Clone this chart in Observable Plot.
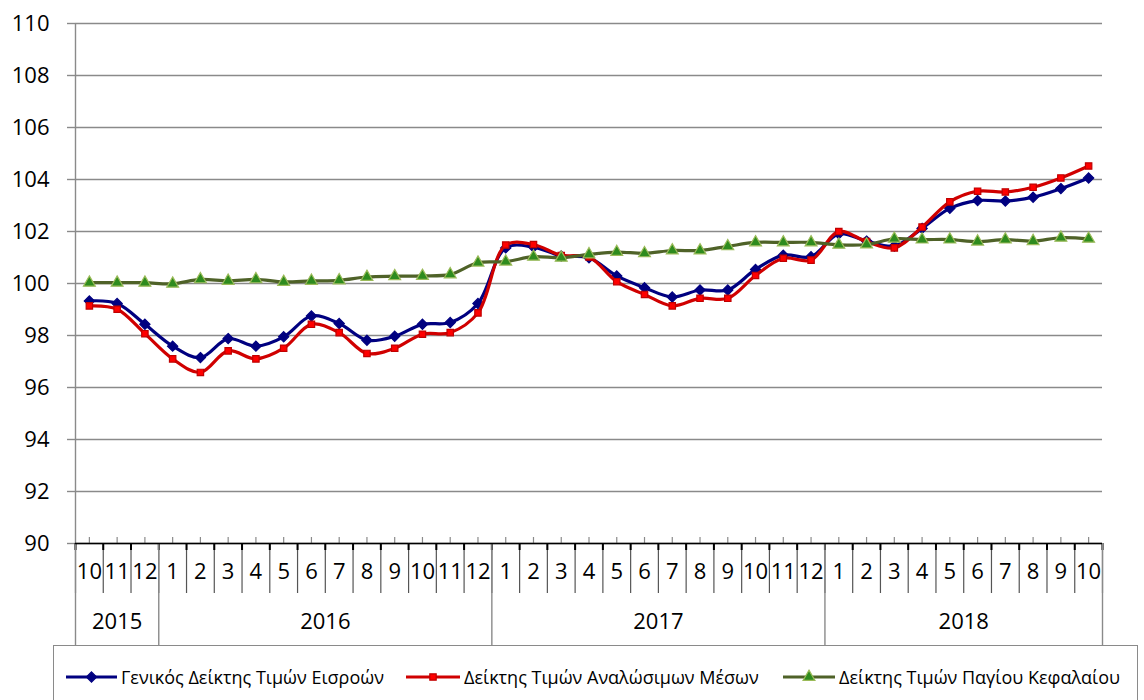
<!DOCTYPE html>
<html><head><meta charset="utf-8">
<script src="https://cdn.jsdelivr.net/npm/d3@7"></script>
<script src="https://cdn.jsdelivr.net/npm/@observablehq/plot@0.6"></script>
<style>
body{margin:0;background:#fff;font-family:"Open Sans",sans-serif;color:#000;}
#wrap{position:relative;width:1144px;height:700px;overflow:hidden;background:#fff;}
#chart{position:absolute;left:0;top:0;}
#legend{position:absolute;left:53px;top:645px;width:1085px;height:80px;border:1.5px solid #8a8a8a;box-sizing:border-box;background:#fff;}
.item{position:absolute;top:19px;height:24px;display:flex;align-items:center;white-space:nowrap;font-size:18px;}
.item svg{margin-right:4px;}
</style>
</head><body>
<div id="wrap"><div id="chart"></div><div id="legend"></div></div>
<script>
const months = [10,11,12,1,2,3,4,5,6,7,8,9,10,11,12,1,2,3,4,5,6,7,8,9,10,11,12,1,2,3,4,5,6,7,8,9,10];
const years  = [2015,2015,2015,2016,2016,2016,2016,2016,2016,2016,2016,2016,2016,2016,2016,2017,2017,2017,2017,2017,2017,2017,2017,2017,2017,2017,2017,2018,2018,2018,2018,2018,2018,2018,2018,2018,2018];
const seriesNames = ["Γενικός Δείκτης Τιμών Εισροών","Δείκτης Τιμών Αναλώσιμων Μέσων","Δείκτης Τιμών Παγίου Κεφαλαίου"];
const general = [99.33,99.23,98.43,97.59,97.15,97.88,97.59,97.95,98.75,98.46,97.82,97.97,98.43,98.50,99.23,101.37,101.40,101.06,100.99,100.29,99.84,99.48,99.75,99.75,100.54,101.09,101.03,101.91,101.63,101.44,102.12,102.89,103.19,103.17,103.32,103.65,104.06];
const consumables = [99.14,99.01,98.07,97.10,96.58,97.41,97.10,97.51,98.43,98.11,97.31,97.51,98.05,98.11,98.87,101.48,101.50,101.08,101.02,100.07,99.58,99.14,99.43,99.43,100.31,100.97,100.90,102.00,101.61,101.37,102.17,103.14,103.55,103.52,103.70,104.06,104.52];
const capital = [100.03,100.03,100.03,99.99,100.16,100.10,100.16,100.06,100.10,100.12,100.25,100.28,100.29,100.35,100.80,100.84,101.03,100.99,101.12,101.21,101.16,101.27,101.27,101.43,101.58,101.58,101.58,101.49,101.50,101.72,101.69,101.69,101.61,101.69,101.63,101.76,101.72];
const yTicks = [90,92,94,96,98,100,102,104,106,108,110];

const styles = [
  {line:"#000080", fill:"#000080", stroke:"#000080", symbol:"diamond2", r:4.6},
  {line:"#D00000", fill:"#FF0000", stroke:"#C00000", symbol:"square", r:3.6},
  {line:"#4F6228", fill:"#2E8B1E", stroke:"#9BBB59", symbol:"triangle", r:4.4}
];
const valuesBySeries = [general, consumables, capital];

const idx = months.map((_, i) => i);
const rows = valuesBySeries.map((vals, s) => vals.map((v, i) => ({i, v, s})));
const boundaries = d3.range(months.length + 1).map(i => i - 0.5);
const yearGroups = d3.groups(idx, i => years[i]).map(([y, is]) => ({year: y, first: d3.min(is), last: d3.max(is)}));
const yearBounds = [-0.5, ...yearGroups.map(g => g.last + 0.5)];
const yearCenters = yearGroups.map(g => ({year: g.year, x: (g.first + g.last) / 2}));

const marks = [
  Plot.ruleY(yTicks, {stroke: "#8a8a8a", strokeWidth: 1.4}),
  Plot.axisY({ticks: yTicks, tickSize: 8, tickPadding: 18, fontSize: 22, stroke: "#8a8a8a", strokeWidth: 1.4, fill: "#000", label: null}),
  Plot.ruleX(idx, {x: d => d, y1: 90, y2: 90, insetBottom: 6, stroke: "#8a8a8a", strokeWidth: 1.2}),
  Plot.ruleX(boundaries, {x: d => d, y1: 90, y2: 90, insetTop: 50, stroke: "#555", strokeWidth: 1.2}),
  Plot.ruleX(boundaries, {x: d => d, y1: 90, y2: 90, insetTop: 7, stroke: "#000", strokeWidth: 2}),
  Plot.ruleX(yearBounds, {x: d => d, y1: 90, y2: 90, insetTop: 102, stroke: "#8a8a8a", strokeWidth: 1.4}),
  Plot.ruleX([-0.5], {stroke: "#8a8a8a", strokeWidth: 1.4}),
  Plot.ruleY([90], {stroke: "#000", strokeWidth: 1.4}),
  Plot.text(idx, {x: d => d, text: i => String(months[i]), frameAnchor: "bottom", dy: 35, fontSize: 22, fill: "#000"}),
  Plot.text(yearCenters, {x: "x", text: d => String(d.year), frameAnchor: "bottom", dy: 85, fontSize: 22, fill: "#000"})
];
rows.forEach((data, s) => {
  const st = styles[s];
  marks.push(Plot.line(data, {x: "i", y: "v", stroke: st.line, strokeWidth: 3.2, curve: "catmull-rom"}));
  marks.push(Plot.dot(data, {x: "i", y: "v", symbol: st.symbol, r: st.r, fill: st.fill, stroke: st.stroke, strokeWidth: 1.2}));
});

const plot = Plot.plot({
  width: 1144,
  height: 645,
  marginTop: 23,
  marginBottom: 102,
  marginLeft: 75,
  marginRight: 42,
  style: {fontFamily: "'Open Sans', sans-serif", color: "#000", background: "#fff"},
  x: {type: "linear", domain: [-0.5, months.length - 0.5], axis: null},
  y: {domain: [90, 110], axis: null},
  marks
});
document.getElementById("chart").appendChild(plot);

const legendPos = [{sw: 12, tx: 67}, {sw: 352, tx: 410}, {sw: 729, tx: 785}];
const legend = document.getElementById("legend");
seriesNames.forEach((name, s) => {
  const st = styles[s];
  const item = document.createElement("div");
  item.className = "item";
  item.style.left = legendPos[s].sw + "px";
  const w = legendPos[s].tx - legendPos[s].sw - 4;
  const svg = d3.create("svg").attr("width", w).attr("height", 24);
  svg.append("line").attr("x1", 0).attr("x2", w).attr("y1", 12).attr("y2", 12).attr("stroke", st.line).attr("stroke-width", 3);
  const sym = {diamond2: d3.symbolDiamond2, square: d3.symbolSquare, triangle: d3.symbolTriangle}[st.symbol];
  svg.append("path").attr("transform", `translate(${w/2},12)`).attr("d", d3.symbol(sym, st.r * st.r * Math.PI)()).attr("fill", st.fill).attr("stroke", st.stroke).attr("stroke-width", 1.2);
  item.appendChild(svg.node());
  const span = document.createElement("span");
  span.textContent = name;
  item.appendChild(span);
  legend.appendChild(item);
});
</script>
</body></html>
